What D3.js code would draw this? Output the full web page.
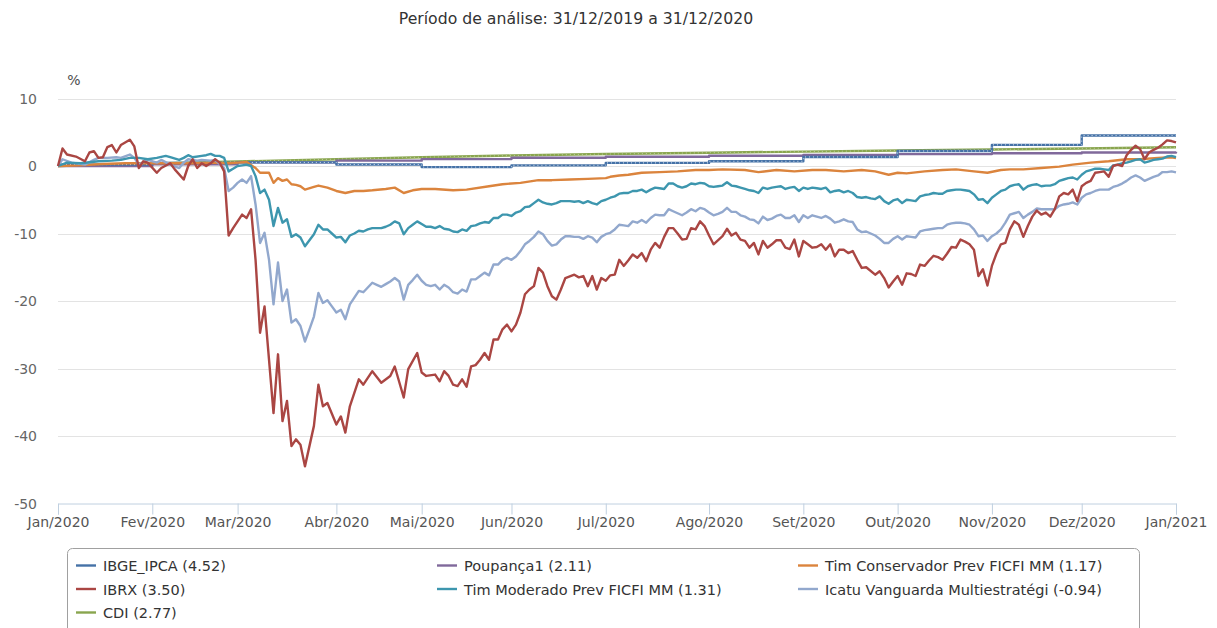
<!DOCTYPE html>
<html>
<head>
<meta charset="utf-8">
<script src="https://cdn.jsdelivr.net/npm/d3@7"></script>
<style>
  body { margin: 0; background: #fff; }
  svg { font-family: "DejaVu Sans", Verdana, sans-serif; }
</style>
</head>
<body>
<div id="chart"></div>
<script>
// dimensoes
const width = 1217;
const height = 628;

// eixo x: indice do pregao (0 = inicio do periodo) onde cada mes comeca
const monthIdx = [0, 21, 40, 62, 81, 101, 122, 145, 166, 187, 208, 228, 249];
const monthLabels = ["Jan/2020", "Fev/2020", "Mar/2020", "Abr/2020", "Mai/2020", "Jun/2020",
  "Jul/2020", "Ago/2020", "Set/2020", "Out/2020", "Nov/2020", "Dez/2020", "Jan/2021"];
const yTicks = [10, 0, -10, -20, -30, -40, -50];

// IPCA acumulado em cada mes (degraus)
const ipca = [0.21, 0.46, 0.53, 0.22, -0.16, 0.10, 0.46, 0.70, 1.34, 2.22, 3.13, 4.52];
// poupanca e CDI acumulados no inicio de cada mes (+ fim do periodo)
const poupanca = [0, 0.27, 0.53, 0.79, 1.02, 1.23, 1.38, 1.52, 1.64, 1.76, 1.88, 1.99, 2.11];
const cdi = [0, 0.38, 0.67, 1.01, 1.30, 1.55, 1.77, 1.97, 2.13, 2.29, 2.45, 2.60, 2.77];

// [pregao, %]
const ibrx = [[0,0],[1,2.6],[2,1.7],[4,1.4],[6,0.7],[7,2.0],[8,2.2],[9,1.2],[10,1.3],[11,2.8],[12,3.1],[13,2.0],[14,3.1],[16,3.9],[17,2.9],[18,-0.3],[19,0.7],[20,0.5],[22,-1.0],[23,-0.3],[25,0.4],[26,-0.5],[28,-2.0],[29,0],[30,1.0],[31,-0.3],[32,0.4],[33,0],[34,0.4],[35,1.0],[36,0.5],[37,-0.8],
  [38,-10.3],[39,-9.2],[40,-8.2],[41,-7.2],[42,-7.7],[43,-6.4],[44,-13.9],[45,-24.7],[46,-20.8],[48,-36.6],[49,-27.9],[50,-37.8],[51,-34.8],[52,-41.5],[53,-40.5],[54,-41.3],[55,-44.5],[57,-38.5],[58,-32.4],[59,-35.6],[60,-35.1],[62,-38.3],[63,-37.1],[64,-39.5],[65,-35.6],[67,-31.6],[68,-32.4],[70,-30.4],[72,-32.1],[74,-31.1],[75,-29.7],[77,-34.3],[78,-30.1],[80,-27.7],
  [81,-30.6],[82,-31.1],[84,-30.9],[85,-31.9],[86,-30.4],[87,-31.1],[88,-32.4],[89,-32.6],[90,-31.6],[91,-32.7],[92,-29.7],[93,-29.5],[94,-28.7],[95,-27.7],[96,-28.7],[97,-25.7],[98,-25.7],[99,-24.2],[100,-23.5],[101,-24.5],[102,-23.5],[103,-21.7],[104,-19.0],[105,-18.3],[106,-17.8],[107,-15.1],[108,-15.8],[109,-17.8],[110,-19.3],[111,-19.8],[112,-18.3],[113,-16.6],[115,-16.1],[116,-16.5],[117,-16.3],[118,-17.8],[119,-16.3],[120,-18.3],[121,-16.6],[122,-17.0],[123,-16.2],[124,-16.1],
  [125,-13.9],[126,-14.8],[127,-14.0],[128,-13.1],[129,-13.6],[130,-12.9],[131,-14.1],[132,-12.4],[133,-11.4],[134,-12.1],[135,-10.5],[136,-9.2],[137,-9.2],[138,-10.0],[139,-10.9],[140,-10.8],[141,-9.2],[142,-9.4],[143,-8.2],[144,-8.9],[145,-10.3],[146,-11.6],[148,-10.4],[149,-9.3],[150,-10.3],[151,-9.9],[152,-10.9],[153,-11.1],[154,-12.1],[155,-11.4],[156,-13.1],[157,-11.1],[158,-12.1],[159,-11.6],[160,-11.0],[161,-11.0],[162,-12.1],[163,-12.3],[164,-10.9],[165,-13.4],[166,-11.1],[167,-11.6],[168,-12.1],[169,-12.0],[170,-11.6],[171,-12.4],[172,-11.6],[173,-13.4],[174,-12.4],[175,-12.4],[176,-12.9],[177,-12.6],[178,-13.9],[179,-15.1],[180,-15.0],[182,-16.1],[183,-15.6],[184,-16.6],[185,-18.0],[186,-17.1],[187,-16.3],
  [188,-17.6],[189,-15.9],[190,-16.0],[191,-16.3],[192,-14.6],[193,-14.8],[194,-14.0],[195,-13.3],[196,-13.5],[197,-13.9],[198,-13.0],[199,-12.0],[200,-12.1],[201,-10.9],[202,-11.2],[203,-11.6],[204,-12.4],[205,-16.3],[206,-15.3],[207,-17.7],[208,-14.8],[209,-13.0],[210,-11.6],[211,-11.4],[212,-9.4],[213,-8.2],[214,-8.7],[215,-10.5],[216,-8.9],[217,-7.5],[218,-6.6],[219,-7.2],[220,-6.9],[221,-7.5],[222,-6.4],[223,-4.5],[224,-4.0],[225,-4.2],[226,-3.5],[227,-5.2],[228,-3.0],[229,-2.5],[230,-2.2],[231,-1.0],[232,-0.9],[233,-0.8],[234,-1.6],[235,0],[236,0.2],[237,0],[238,1.6],[239,2.4],[240,3.0],[241,2.5],[242,1.0],[243,2.0],[244,2.4],[245,2.7],[246,3.2],[247,3.8],[248,3.7],[249,3.5]];

const icatu = [[0,0],[1,1.0],[3,0.5],[6,0.2],[8,0.9],[9,1.2],[11,1.2],[13,1.3],[14,1.2],[16,1.7],[17,1.2],[18,0.2],[20,0.9],[22,0.5],[23,0.9],[25,0.2],[27,-0.3],[28,0.5],[29,1.0],[31,0.8],[32,0.9],[34,0.8],[35,0.9],[37,-0.3],
  [38,-3.7],[39,-3.2],[40,-2.5],[41,-2.0],[42,-2.5],[43,-1.5],[44,-5.7],[45,-11.4],[46,-9.9],[47,-13.9],[48,-20.5],[49,-14.3],[50,-20.0],[51,-18.3],[52,-23.2],[53,-22.7],[54,-23.7],[55,-26.0],[56,-24.2],[57,-22.3],[58,-18.8],[59,-20.3],[60,-19.9],[61,-20.8],[62,-21.7],[63,-21.3],[64,-22.7],[65,-20.5],[66,-19.5],[67,-18.5],[68,-18.7],[69,-18.0],[70,-17.3],[71,-17.6],[72,-17.9],[73,-17.5],[74,-17.1],[75,-16.6],[76,-17.1],[77,-19.8],[78,-17.6],[79,-16.9],[80,-16.1],
  [81,-17.0],[82,-17.6],[83,-17.8],[84,-17.6],[85,-18.3],[86,-17.6],[87,-18.0],[88,-18.7],[89,-18.9],[90,-18.3],[91,-18.6],[92,-16.8],[93,-16.8],[94,-16.3],[95,-15.8],[96,-16.2],[97,-14.6],[98,-14.6],[99,-13.9],[100,-13.6],[101,-13.9],[102,-13.4],[103,-12.6],[104,-11.6],[105,-11.1],[106,-10.5],[107,-9.7],[108,-10.1],[109,-11.1],[110,-11.8],[111,-11.6],[112,-10.9],[113,-10.4],[114,-10.4],[115,-10.5],[116,-10.5],[117,-10.8],[118,-10.4],[119,-10.6],[120,-11.3],[121,-10.5],[122,-10.1],[123,-9.9],[124,-9.4],
  [125,-8.7],[126,-8.8],[127,-8.9],[128,-8.2],[129,-8.4],[130,-8.0],[131,-8.4],[132,-7.7],[133,-7.2],[134,-7.3],[135,-7.3],[136,-6.4],[137,-6.7],[138,-7.0],[139,-7.3],[140,-6.9],[141,-6.4],[142,-6.7],[143,-6.2],[144,-6.4],[145,-6.9],[146,-7.3],[147,-7.1],[148,-6.8],[149,-6.2],[150,-6.8],[151,-6.8],[152,-7.3],[153,-7.5],[154,-7.9],[155,-8.0],[156,-8.5],[157,-7.5],[158,-8.0],[159,-7.8],[160,-7.4],[161,-7.2],[162,-7.7],[163,-7.7],[164,-7.3],[165,-8.3],[166,-7.3],[167,-7.7],[168,-7.3],[169,-7.5],[170,-7.7],[171,-7.4],[172,-7.8],[173,-8.4],[174,-8.2],[175,-7.9],[176,-8.2],[177,-8.3],[178,-9.4],[179,-9.8],[180,-9.7],[181,-10.0],[182,-10.3],[183,-10.8],[184,-11.4],[185,-11.4],[186,-10.8],[187,-10.4],
  [188,-10.9],[189,-10.4],[190,-10.5],[191,-10.6],[192,-9.7],[193,-9.5],[194,-9.4],[195,-9.3],[196,-9.2],[197,-9.2],[198,-8.7],[199,-8.5],[200,-8.4],[201,-8.4],[202,-8.5],[203,-8.7],[204,-9.4],[205,-10.4],[206,-10.3],[207,-11.1],[208,-10.4],[209,-10.0],[210,-9.4],[211,-8.4],[212,-7.2],[213,-7.0],[214,-6.8],[215,-7.7],[216,-7.2],[217,-6.8],[218,-6.3],[219,-6.4],[220,-6.4],[221,-6.4],[222,-6.4],[223,-5.9],[224,-5.7],[225,-5.6],[226,-5.4],[227,-5.7],[228,-4.7],[229,-4.2],[230,-4.0],[231,-3.7],[232,-3.5],[233,-3.5],[234,-3.5],[235,-3.1],[236,-2.9],[237,-2.6],[238,-2.2],[239,-1.7],[240,-1.4],[241,-1.7],[242,-2.2],[243,-1.9],[244,-1.6],[245,-1.4],[246,-0.9],[247,-0.9],[248,-0.8],[249,-0.94]];

const moderado = [[0,0],[2,0.5],[5,0.4],[9,0.7],[12,0.8],[14,0.9],[16,1.2],[18,1.2],[20,1.0],[22,1.2],[24,1.5],[25,1.3],[27,0.9],[28,1.2],[29,1.6],[30,1.3],[32,1.5],[33,1.6],[34,1.8],[35,1.5],[36,1.5],[37,1.2],
  [38,-0.8],[39,-0.4],[40,0],[41,0.1],[42,0.2],[43,0],[44,-1.5],[45,-4.0],[46,-3.5],[47,-5.0],[48,-8.9],[49,-6.2],[50,-8.4],[51,-7.9],[52,-10.5],[53,-10.1],[54,-10.6],[55,-11.9],[56,-11.0],[57,-10.1],[58,-8.7],[59,-9.4],[60,-9.4],[61,-10.0],[62,-10.6],[63,-10.5],[64,-11.3],[65,-10.3],[66,-10.0],[67,-9.6],[68,-9.7],[69,-9.4],[70,-9.2],[71,-9.2],[72,-9.2],[73,-9.0],[74,-8.7],[75,-8.2],[76,-8.5],[77,-10.1],[78,-9.2],[79,-8.7],[80,-8.2],
  [81,-8.6],[82,-9.0],[83,-9.0],[84,-9.2],[85,-8.9],[86,-9.3],[87,-9.4],[88,-9.7],[89,-9.8],[90,-9.4],[91,-9.6],[92,-8.9],[93,-8.8],[94,-8.5],[95,-8.3],[96,-8.4],[97,-7.7],[98,-7.7],[99,-7.2],[100,-7.2],[101,-7.4],[102,-6.9],[103,-6.7],[104,-6.1],[105,-6.0],[106,-5.5],[107,-5.0],[108,-5.4],[109,-5.6],[110,-5.7],[111,-5.5],[112,-5.2],[113,-5.2],[114,-5.2],[115,-5.3],[116,-5.2],[117,-5.5],[118,-5.2],[119,-5.5],[120,-5.7],[121,-5.2],[122,-5.0],[123,-4.7],[124,-4.5],
  [125,-4.1],[126,-4.0],[127,-4.0],[128,-3.7],[129,-3.7],[130,-3.5],[131,-3.9],[132,-3.5],[133,-3.2],[134,-3.3],[135,-3.4],[136,-2.6],[137,-2.6],[138,-3.0],[139,-3.2],[140,-3.0],[141,-2.6],[142,-2.7],[143,-2.5],[144,-2.6],[145,-3.0],[146,-3.1],[147,-3.0],[148,-2.9],[149,-2.4],[150,-2.9],[151,-3.0],[152,-3.2],[153,-3.4],[154,-3.6],[155,-3.7],[156,-4.0],[157,-3.2],[158,-3.4],[159,-3.2],[160,-3.1],[161,-3.0],[162,-3.4],[163,-3.2],[164,-3.1],[165,-3.7],[166,-3.2],[167,-3.4],[168,-3.2],[169,-3.3],[170,-3.4],[171,-3.2],[172,-3.9],[173,-3.7],[174,-3.6],[175,-3.9],[176,-3.7],[177,-4.0],[178,-4.6],[179,-4.7],[180,-4.6],[181,-4.8],[182,-4.9],[183,-4.5],[184,-5.2],[185,-5.6],[186,-5.1],[187,-4.9],
  [188,-5.5],[189,-5.0],[190,-5.1],[191,-5.2],[192,-4.5],[193,-4.3],[194,-4.2],[195,-4.0],[196,-4.1],[197,-4.1],[198,-3.7],[199,-3.6],[200,-3.5],[201,-3.5],[202,-3.6],[203,-3.7],[204,-4.2],[205,-5.0],[206,-4.9],[207,-5.5],[208,-4.7],[209,-4.2],[210,-3.7],[211,-3.5],[212,-3.0],[213,-2.8],[214,-2.7],[215,-3.5],[216,-3.0],[217,-2.8],[218,-2.7],[219,-3.0],[220,-2.9],[221,-2.9],[222,-2.7],[223,-2.2],[224,-2.0],[225,-1.8],[226,-1.7],[227,-2.0],[228,-1.3],[229,-0.8],[230,-0.6],[231,-0.4],[232,-0.4],[233,-0.5],[234,-0.6],[235,0.1],[236,0.2],[237,0.4],[238,0.5],[239,0.7],[240,0.9],[241,1.0],[242,0.5],[243,0.7],[244,0.9],[245,1.0],[246,1.1],[247,1.4],[248,1.5],[249,1.31]];

const conservador = [[0,0],[5,0.1],[10,0.3],[15,0.4],[20,0.4],[25,0.4],[30,0.4],[35,0.5],[38,0.4],[40,0.5],[42,0.6],[44,-0.3],[45,-1.0],[47,-1.0],[48,-2.5],[49,-1.8],[50,-2.2],[51,-2.0],[52,-2.7],[53,-2.8],[54,-3.0],[55,-3.5],[57,-3.1],[58,-2.9],[60,-3.2],[62,-3.7],[64,-4.0],[66,-3.7],[68,-3.7],[70,-3.6],[73,-3.4],[75,-3.2],[77,-4.0],[79,-3.6],[81,-3.4],[84,-3.4],[88,-3.6],[91,-3.5],[96,-3.0],[99,-2.7],[103,-2.5],[107,-2.1],[110,-2.1],[114,-2.0],[118,-1.9],[122,-1.8],[123,-1.6],[125,-1.4],[127,-1.3],[130,-1.0],[134,-0.9],[138,-0.8],[142,-0.6],[145,-0.6],[148,-0.5],[153,-0.6],[156,-0.9],[160,-0.6],[164,-0.8],[168,-0.6],[171,-0.6],[175,-0.8],[179,-0.6],[182,-0.8],[185,-1.3],[187,-1.0],[189,-1.1],[193,-0.8],[197,-0.6],[200,-0.5],[204,-0.8],[207,-1.0],[210,-0.6],[212,-0.5],[215,-0.5],[219,-0.3],[223,-0.1],[226,0.2],[230,0.5],[234,0.7],[238,1.0],[241,1.0],[245,1.2],[248,1.3],[249,1.17]];

// series: ordem de desenho (ultima fica por cima)
const seriesNames = ["CDI (2.77)", "Poupança1 (2.11)", "IBGE_IPCA (4.52)", "Tim Conservador Prev FICFI MM (1.17)",
  "Icatu Vanguarda Multiestratégi (-0.94)", "Tim Moderado Prev FICFI MM (1.31)", "IBRX (3.50)"];

const series = [
  { name: seriesNames[0], color: "#89A54E", curve: d3.curveLinear, dots: 0.45,
    pts: monthIdx.map((m, i) => [m, cdi[i]]) },
  { name: seriesNames[1], color: "#80699B", curve: d3.curveStepAfter,
    pts: monthIdx.map((m, i) => [m, poupanca[i]]) },
  { name: seriesNames[2], color: "#4572A7", curve: d3.curveStepAfter, dots: 0.8,
    pts: ipca.map((v, i) => [monthIdx[i], v]).concat([[249, ipca[ipca.length - 1]]]) },
  { name: seriesNames[3], color: "#DB843D", curve: d3.curveLinear, pts: conservador },
  { name: seriesNames[4], color: "#92A8CD", curve: d3.curveLinear, pts: icatu },
  { name: seriesNames[5], color: "#3D96AE", curve: d3.curveLinear, pts: moderado },
  { name: seriesNames[6], color: "#AA4643", curve: d3.curveLinear, pts: ibrx }
];

// ordem da legenda (3 colunas, preenchida por linha)
const legendOrder = [2, 1, 3, 6, 5, 4, 0];

const svg = d3.select("#chart")
  .append("svg")
  .attr("width", width)
  .attr("height", height);

const x = d3.scaleLinear().domain([0, 249]).range([58, 1176]);
const y = d3.scaleLinear().domain([-50, 10]).range([503.5, 98.5]);

// titulo
svg.append("text")
  .attr("x", 576)
  .attr("y", 24)
  .attr("text-anchor", "middle")
  .attr("font-size", "15.7px")
  .attr("fill", "#333")
  .text("Período de análise: 31/12/2019 a 31/12/2020");

svg.append("text")
  .attr("x", 74)
  .attr("y", 85)
  .attr("text-anchor", "middle")
  .attr("font-size", "14px")
  .attr("fill", "#4d4d4d")
  .text("%");

// grade horizontal
svg.append("g")
  .selectAll("line")
  .data(yTicks.filter(t => t > -50))
  .enter()
  .append("line")
  .attr("x1", 58)
  .attr("x2", 1176)
  .attr("y1", d => Math.round(y(d)) + 0.5)
  .attr("y2", d => Math.round(y(d)) + 0.5)
  .attr("stroke", "#e3e3e3")
  .attr("stroke-width", 1);

svg.append("g")
  .selectAll("text")
  .data(yTicks)
  .enter()
  .append("text")
  .attr("x", 37)
  .attr("y", d => y(d) + 5)
  .attr("text-anchor", "end")
  .attr("font-size", "14px")
  .attr("fill", "#666")
  .text(d => d);

// eixo x
const xAxis = d3.axisBottom(x)
  .tickValues(monthIdx)
  .tickFormat((d, i) => monthLabels[i])
  .tickSize(11)
  .tickPadding(3);

const gx = svg.append("g")
  .attr("transform", "translate(0,503.5)")
  .call(xAxis);

gx.select(".domain").attr("stroke", "#C0D0E0");
gx.selectAll(".tick line").attr("stroke", "#C0D0E0");
gx.selectAll(".tick text")
  .attr("font-family", "DejaVu Sans, sans-serif")
  .attr("font-size", "14px")
  .attr("fill", "#555");

// linhas
const line = d3.line()
  .x(d => x(d[0]))
  .y(d => y(d[1]));

series.forEach(s => {
  svg.append("path")
    .datum(s.pts)
    .attr("fill", "none")
    .attr("stroke", s.color)
    .attr("stroke-width", 2.4)
    .attr("stroke-linejoin", "round")
    .attr("d", line.curve(s.curve));
  if (s.dots) {
    svg.append("path")
      .datum(s.pts)
      .attr("fill", "none")
      .attr("stroke", "#fff")
      .attr("stroke-opacity", s.dots)
      .attr("stroke-width", 1)
      .attr("stroke-dasharray", "1 3")
      .attr("d", line.curve(s.curve));
  }
});

// legenda
svg.append("rect")
  .attr("x", 67.5)
  .attr("y", 548.5)
  .attr("width", 1072)
  .attr("height", 100)
  .attr("rx", 5)
  .attr("fill", "none")
  .attr("stroke", "#a0a0a0");

const colX = [76, 437, 798];
const rowY = [565.5, 589, 612.5];

const legend = svg.append("g")
  .selectAll("g")
  .data(legendOrder)
  .enter()
  .append("g")
  .attr("transform", (d, i) => `translate(${colX[i % 3]},${rowY[Math.floor(i / 3)]})`);

legend.append("line")
  .attr("x1", 0)
  .attr("x2", 20)
  .attr("stroke", d => series[d].color)
  .attr("stroke-width", 2.4);

legend.append("text")
  .attr("x", 27)
  .attr("y", 5.5)
  .attr("font-size", "14.5px")
  .attr("fill", "#333")
  .text(d => series[d].name);
</script>
</body>
</html>
